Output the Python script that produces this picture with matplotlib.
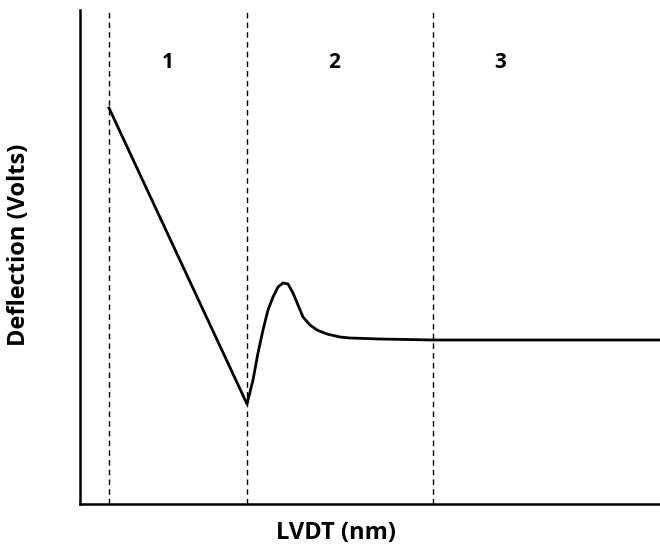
import matplotlib.pyplot as plt

# curve (arbitrary units: x right of axis, y up from axis)
lvdt = [29, 167, 173, 178, 183, 188, 193, 198, 203, 208, 213, 218, 223, 230, 237,
	247, 260, 270, 300, 353, 580]
defl = [396, 100, 124, 151, 174, 194, 207, 217, 221, 220, 211, 199, 187, 179, 174,
	170, 167, 166, 165, 164, 164]

region_edges = [29, 167, 353]
region_labels = ['1', '2', '3']
region_label_x = [88, 254, 420]

plt.rcParams['font.family'] = ['Open Sans', 'DejaVu Sans']

fig = plt.figure(figsize=(6.6, 5.5), dpi=100)
ax = fig.add_axes([80/660, 46/550, 580/660, 494/550])

ax.plot(lvdt, defl, color='black', lw=2, solid_joinstyle='round')
for xe in region_edges:
	ax.axvline(xe, color='black', lw=1, ls=(0, (4, 3)))
for xl, t in zip(region_label_x, region_labels):
	ax.text(xl, 442, t, ha='center', va='center', fontsize=15, fontweight='bold')

ax.set_xlim(0, 580)
ax.set_ylim(0, 494)
ax.set_xticks([])
ax.set_yticks([])
ax.spines['top'].set_visible(False)
ax.spines['right'].set_visible(False)
ax.spines['left'].set_linewidth(1.8)
ax.spines['bottom'].set_linewidth(1.8)

ax.set_xlabel('LVDT (nm)', fontsize=17, fontweight='bold')
ax.xaxis.set_label_coords((336-80)/580, -0.035)
ax.set_ylabel('Deflection (Volts)', fontsize=17, fontweight='bold')
ax.yaxis.set_label_coords(-0.085, (504-245)/494)

fig.savefig('out.png', dpi=100)
